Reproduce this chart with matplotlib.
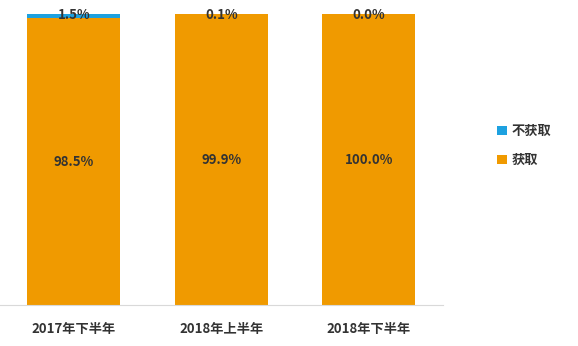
import matplotlib.pyplot as plt
import numpy as np

plt.rcParams['font.family'] = ['Noto Sans CJK SC', 'DejaVu Sans']

categories = ['2017年下半年', '2018年上半年', '2018年下半年']
get_vals = [98.5, 99.9, 100.0]
notget_vals = [1.5, 0.1, 0.0]

orange = '#F09A00'
blue = '#1DA1E0'
txt = '#333333'

fig = plt.figure(figsize=(5.78, 3.46), dpi=100)
ax = fig.add_axes([0.0, 0.1185, 0.766, 0.841])

x = np.arange(len(categories))
w = 0.63
b1 = ax.bar(x, get_vals, w, color=orange, label='获取')
b2 = ax.bar(x, notget_vals, w, bottom=get_vals, color=blue, label='不获取')

for i in range(len(x)):
    ax.text(x[i], get_vals[i] / 2, '%.1f%%' % get_vals[i], ha='center', va='center',
            fontsize=9.5, fontweight='bold', color=txt)
    ax.text(x[i], 99.6, '%.1f%%' % notget_vals[i], ha='center', va='center',
            fontsize=9.5, fontweight='bold', color=txt)

ax.set_xlim(-0.5, 2.5)
ax.set_ylim(0, 100)
ax.set_xticks(x)
ax.set_xticklabels(categories, fontsize=9.5, fontweight='bold', color=txt)
ax.tick_params(axis='x', length=0, pad=12)
ax.set_yticks([])
for s in ['top', 'right', 'left']:
    ax.spines[s].set_visible(False)
ax.spines['bottom'].set_color('#d9d9d9')

handles = [b2, b1]
leg = fig.legend(handles, ['不获取', '获取'], loc='upper left', bbox_to_anchor=(0.84, 0.675),
                 frameon=False, handlelength=0.7, handleheight=0.7, handletextpad=0.4,
                 labelspacing=1.1, prop={'weight': 'bold', 'size': 9.5})
for t in leg.get_texts():
    t.set_color(txt)

plt.savefig('out.png', dpi=100)
